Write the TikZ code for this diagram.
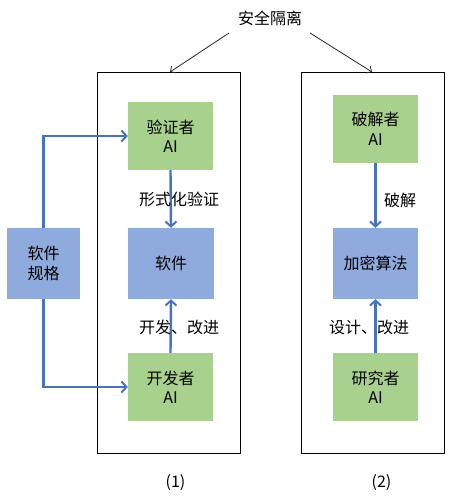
\documentclass[tikz,border=0pt]{standalone}
\usepackage{fontspec}
\setmainfont{Noto Sans CJK SC}
\usetikzlibrary{arrows.meta}
\definecolor{gbox}{HTML}{A9D18E}
\definecolor{bbox}{HTML}{8FAADC}
\definecolor{barrow}{HTML}{4472C4}
\begin{document}
\begin{tikzpicture}[x=1pt,y=-1pt,
  every node/.style={font=\fontsize{16}{19.5}\selectfont, inner sep=0pt, align=center},
  greenbox/.style={fill=gbox, minimum width=85pt, minimum height=68pt},
  bluebox/.style={fill=bbox, minimum width=85pt, minimum height=71pt},
  framebox/.style={draw=black, line width=0.8pt, minimum width=143pt, minimum height=381pt},
  blueline/.style={draw=barrow, line width=2.4pt, -{Straight Barb[length=5pt,width=11pt,line width=2pt]}},
  blackline/.style={draw=black!85, line width=0.8pt, -{Straight Barb[length=4pt,width=8pt]}},
  lbl/.style={}]
\useasboundingbox (0,0) rectangle (453,498);
\node[framebox] (f1) at (168.5,262.5) {};
\node[framebox] (f2) at (373,262.5) {};
\node[greenbox] (ver) at (170.5,136) {验证者\\AI};
\node[greenbox] (crk) at (375.5,129) {破解者\\AI};
\node[bluebox, minimum width=86pt] (sw) at (171,263.5) {软件};
\node[bluebox] (alg) at (375.5,263.5) {加密算法};
\node[bluebox, minimum width=73pt] (spec) at (43.5,263.5) {软件\\规格};
\node[greenbox] (dev) at (170.5,387) {开发者\\AI};
\node[greenbox] (res) at (375.5,387) {研究者\\AI};
\node (iso) at (270,18) {安全隔离};
\coordinate (isoL) at (229,33);
\coordinate (isoR) at (310,33);
\coordinate (t1) at (170,72);
\coordinate (t2) at (372,72);
\draw[blackline] (isoL) -- (t1);
\draw[blackline] (isoR) -- (t2);
\draw[blueline] (spec.north) |- (ver.west);
\draw[blueline] (spec.south) |- (dev.west);
\draw[blueline] (ver.south) -- (sw.north);
\draw[blueline] (dev.north) -- (sw.south);
\draw[blueline] (crk.south) -- (alg.north);
\draw[blueline] (res.north) -- (alg.south);
\node[lbl] (l1) at (179,199) {形式化验证};
\node[lbl] (l2) at (400,200) {破解};
\node[lbl] (l3) at (179,327) {开发、改进};
\node[lbl] (l4) at (369,327) {设计、改进};
\node[lbl] (n1) at (175.5,483) {(1)};
\node[lbl] (n2) at (381.5,483) {(2)};
\end{tikzpicture}
\end{document}
